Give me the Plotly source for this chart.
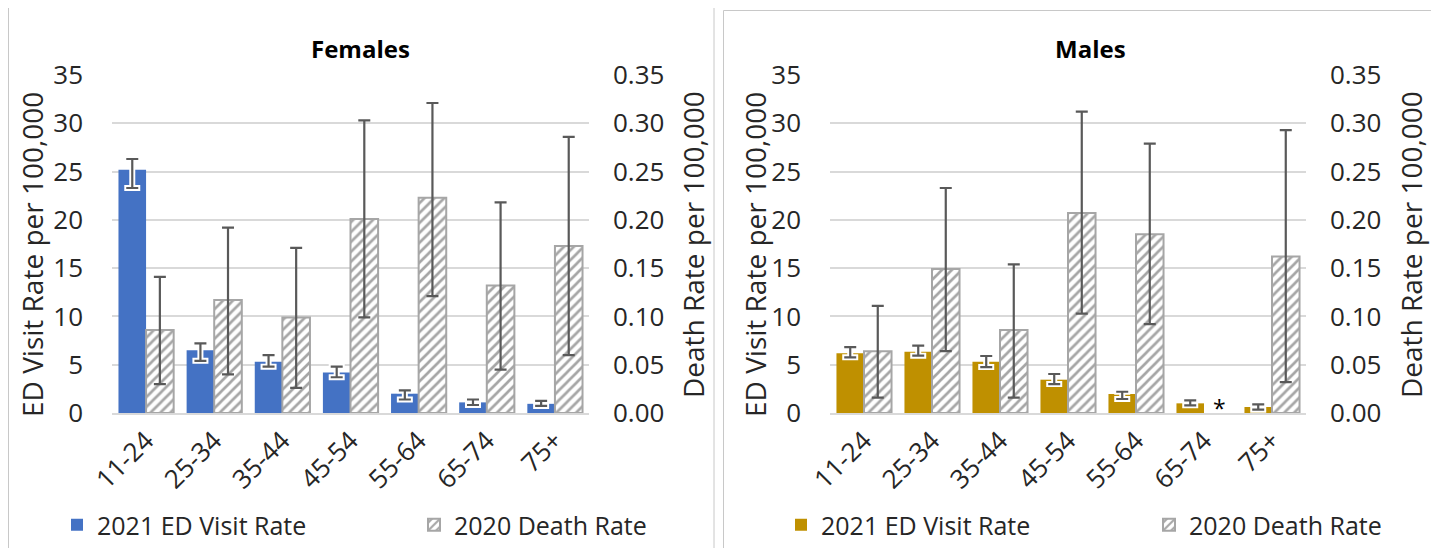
import plotly.graph_objects as go
from plotly.subplots import make_subplots

# ---------------- data ----------------
age_groups = ["11-24", "25-34", "35-44", "45-54", "55-64", "65-74", "75+"]

fem_ed = [25.2, 6.5, 5.3, 4.2, 2.0, 1.1, 0.95]
fem_ed_hi = [26.3, 7.2, 6.0, 4.8, 2.35, 1.4, 1.25]
fem_ed_lo = [23.3, 5.4, 4.8, 3.7, 1.4, 0.83, 0.73]

fem_death = [0.086, 0.117, 0.099, 0.201, 0.223, 0.132, 0.173]
fem_death_hi = [0.141, 0.192, 0.171, 0.303, 0.321, 0.218, 0.286]
fem_death_lo = [0.030, 0.040, 0.026, 0.099, 0.121, 0.045, 0.060]

male_ed = [6.2, 6.35, 5.3, 3.45, 1.97, 1.0, 0.62]
male_ed_hi = [6.83, 6.97, 5.9, 4.04, 2.2, 1.31, 0.89]
male_ed_lo = [5.76, 5.94, 4.76, 3.0, 1.45, 0.79, 0.34]

male_death = [0.064, 0.149, 0.086, 0.207, 0.185, None, 0.162]
male_death_hi = [0.111, 0.233, 0.154, 0.312, 0.279, None, 0.293]
male_death_lo = [0.016, 0.064, 0.016, 0.103, 0.092, None, 0.032]

ed_name = "2021 ED Visit Rate"
death_name = "2020 Death Rate"
suppressed_group = "65-74"

# ---------------- styling ----------------
OFF = 8                      # page body margin
W, H = 1439 - OFF, 548 - OFF  # figure size
FONT = "Open Sans"
TXT = "#262626"
GRID = "#d9d9d9"
ERR = "#595959"
HATCH = "#a6a6a6"
BLUE = "#4472c4"
GOLD = "#bf9000"
BW = 0.405


def px(x):
    return (x - OFF) / W


def py(y):
    return 1 - (y - OFF) / H


def up(v, hi):
    return [None if a is None else b - a for a, b in zip(v, hi)]


def down(v, lo):
    return [None if a is None else a - b for a, b in zip(v, lo)]


fig = make_subplots(rows=1, cols=2,
                    specs=[[{"secondary_y": True}, {"secondary_y": True}]])

panels = [
    (1, fem_ed, fem_ed_hi, fem_ed_lo, fem_death, fem_death_hi, fem_death_lo, BLUE, "legend", "legend2"),
    (2, male_ed, male_ed_hi, male_ed_lo, male_death, male_death_hi, male_death_lo, GOLD, "legend3", "legend4"),
]

for col, ed, ed_hi, ed_lo, de, de_hi, de_lo, color, leg_a, leg_b in panels:
    # ED bars with white halo error bars
    fig.add_trace(go.Bar(
        x=age_groups, y=ed, width=BW, offset=-BW, name=ed_name, legend=leg_a,
        marker=dict(color=color, line=dict(width=0)),
        error_y=dict(type="data", symmetric=False, array=up(ed, ed_hi),
                     arrayminus=down(ed, ed_lo), color="white",
                     thickness=6, width=8),
    ), row=1, col=col, secondary_y=False)
    # gray error bars on top
    fig.add_trace(go.Bar(
        x=age_groups, y=ed, width=BW, offset=-BW, showlegend=False,
        hoverinfo="skip", legend=leg_a,
        marker=dict(color="rgba(0,0,0,0)", line=dict(width=0)),
        error_y=dict(type="data", symmetric=False, array=up(ed, ed_hi),
                     arrayminus=down(ed, ed_lo), color=ERR,
                     thickness=2.2, width=6),
    ), row=1, col=col, secondary_y=False)
    # Death bars (hatched)
    fig.add_trace(go.Bar(
        x=age_groups, y=de, width=BW, offset=0, name=death_name, legend=leg_b,
        marker=dict(color="white", line=dict(color=HATCH, width=2),
                    pattern=dict(shape="/", fgcolor=HATCH, bgcolor="white",
                                 size=7, solidity=0.38)),
        error_y=dict(type="data", symmetric=False, array=up(de, de_hi),
                     arrayminus=down(de, de_lo), color=ERR,
                     thickness=2.2, width=6),
    ), row=1, col=col, secondary_y=True)

tickfont = dict(family=FONT, size=26, color=TXT)
legfont = dict(family=FONT, size=25, color=TXT)


def leg(xl):
    return dict(orientation="h", x=px(xl), y=py(525), xanchor="left",
                yanchor="middle", font=legfont, bgcolor="rgba(0,0,0,0)")


fig.update_layout(
    template="none",
    width=W, height=H,
    margin=dict(l=0, r=0, t=0, b=0),
    paper_bgcolor="white", plot_bgcolor="rgba(0,0,0,0)",
    barmode="overlay",
    font=dict(family=FONT, color=TXT),
    legend=leg(57), legend2=leg(414), legend3=leg(781), legend4=leg(1149),
)

xcommon = dict(type="category", tickangle=-45, tickfont=tickfont,
               showline=True, linecolor=GRID, linewidth=2, ticks="",
               showgrid=False, zeroline=False, fixedrange=True)
fig.update_layout(
    xaxis=dict(domain=[px(112), px(589)], **xcommon),
    xaxis2=dict(domain=[px(830), px(1306)], **xcommon),
)

ycommon = dict(range=[0, 35], dtick=5, tickfont=tickfont, showgrid=True,
               gridcolor=GRID, gridwidth=2, zeroline=False, showline=False,
               ticks="", ticklabelstandoff=28, domain=[py(413), py(75)])
y2common = dict(range=[0, 0.35], dtick=0.05, tickformat=".2f", tickfont=tickfont,
                showgrid=False, zeroline=False, showline=False, ticks="",
                ticklabelstandoff=23, domain=[py(413), py(75)])
fig.update_layout(yaxis=ycommon, yaxis2=y2common, yaxis3=ycommon, yaxis4=y2common)

# Titles and axis titles
ann = []
for xc, t in [(360, "<b>Females</b>"), (1090, "<b>Males</b>")]:
    ann.append(dict(text=t, x=px(xc), y=py(48), xref="paper", yref="paper",
                    xanchor="center", yanchor="middle", showarrow=False,
                    font=dict(family=FONT, size=24, color="black")))
for xc, yc, t in [(32, 255, "ED Visit Rate per 100,000"),
                  (693, 245, "Death Rate per 100,000"),
                  (755, 255, "ED Visit Rate per 100,000"),
                  (1411, 245, "Death Rate per 100,000")]:
    ann.append(dict(text=t, x=px(xc), y=py(yc), xref="paper", yref="paper",
                    xanchor="center", yanchor="middle",
                    textangle=-90, showarrow=False,
                    font=dict(family=FONT, size=28, color=TXT)))
# suppressed value marker
ann.append(dict(text="*", x=suppressed_group, y=0, xref="x2", yref="y4",
                xshift=15, yshift=-13, xanchor="center", yanchor="bottom",
                showarrow=False, font=dict(family=FONT, size=23, color="black")))
fig.update_layout(annotations=ann)

# Panel borders
BORDER = "#c8c8c8"
shapes = [
    dict(type="line", xref="paper", yref="paper", x0=px(8.5), x1=px(8.5), y0=0, y1=1,
         line=dict(color=BORDER, width=1)),
    dict(type="line", xref="paper", yref="paper", x0=px(714), x1=px(714), y0=0, y1=1,
         line=dict(color=BORDER, width=1)),
    dict(type="line", xref="paper", yref="paper", x0=px(723.5), x1=px(723.5), y0=0, y1=py(10.5),
         line=dict(color=BORDER, width=1)),
    dict(type="line", xref="paper", yref="paper", x0=px(723.5), x1=px(1432), y0=py(10.5), y1=py(10.5),
         line=dict(color=BORDER, width=1)),
]
fig.update_layout(shapes=shapes)

fig.write_html("out.html")
